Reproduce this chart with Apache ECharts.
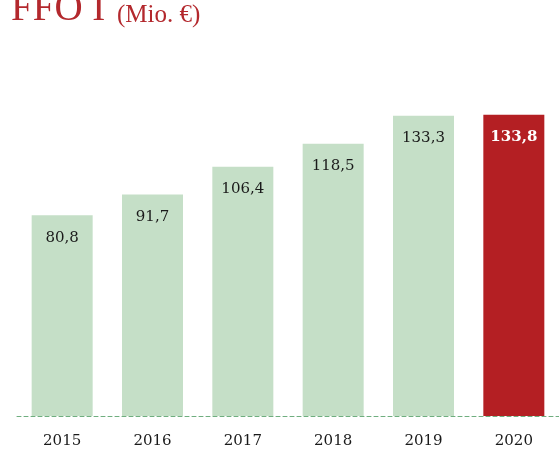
<!DOCTYPE html>
<html>
<head>
<meta charset="utf-8">
<script src="https://cdn.jsdelivr.net/npm/echarts@6/dist/echarts.min.js"></script>
<style>
  html, body { margin: 0; padding: 0; background: #fff; }
  #chart { width: 559px; height: 450px; }
</style>
</head>
<body>
<div id="chart"></div>
<script>
// FFO I in Mio. €
var years = ['2015', '2016', '2017', '2018', '2019', '2020'];
var ffoValues = [80.8, 91.7, 106.4, 118.5, 133.3, 133.8];
var highlightYear = '2020';

var GREEN = '#c5dfc7';
var RED = '#b41f23';
var AXIS_MIN = -25;   // bars in the original grow from below zero
var AXIS_MAX = 150;

var chart = echarts.init(document.getElementById('chart'));

function fmt(v) { return String(v).replace('.', ','); }

var option = {
  animation: false,
  title: [
    {
      text: 'FFO I',
      left: 11,
      top: -10,
      padding: 0,
      textStyle: { fontFamily: 'Liberation Serif', fontSize: 39, fontWeight: 'normal', color: '#b3282d' }
    },
    {
      text: '(Mio. €)',
      left: 117,
      top: 3,
      padding: 0,
      textStyle: { fontFamily: 'Liberation Serif', fontSize: 25, fontWeight: 'normal', color: '#b3282d' }
    }
  ],
  grid: { left: 17, width: 544, top: 84, bottom: 34 },
  xAxis: {
    type: 'category',
    data: years,
    axisTick: { show: false },
    axisLine: { onZero: false, lineStyle: { color: '#6fae7f', type: [4, 3], width: 1 } },
    axisLabel: { fontFamily: 'DejaVu Serif', fontSize: 15, color: '#1a1a1a', margin: 18 }
  },
  yAxis: {
    type: 'value',
    min: AXIS_MIN,
    max: AXIS_MAX,
    show: false
  },
  series: [
    {
      type: 'custom',
      data: ffoValues.map(function (v, i) { return [i, v]; }),
      encode: { x: 0, y: 1 },
      z: 1,
      renderItem: function (params, api) {
        var idx = api.value(0);
        var val = api.value(1);
        var top = api.coord([idx, val]);
        var base = api.coord([idx, AXIS_MIN]);
        var w = 61;
        var hot = years[idx] === highlightYear;
        return {
          type: 'group',
          children: [
            {
              type: 'rect',
              shape: { x: top[0] - w / 2, y: top[1], width: w, height: base[1] - top[1] },
              style: { fill: hot ? RED : GREEN }
            },
            {
              type: 'text',
              style: {
                text: fmt(val),
                x: top[0],
                y: top[1] + 15,
                align: 'center',
                verticalAlign: 'top',
                fill: hot ? '#fff' : '#1a1a1a',
                font: (hot ? 'bold ' : '') + '15px "DejaVu Serif"'
              }
            }
          ]
        };
      }
    }
  ]
};

chart.setOption(option);
</script>
</body>
</html>
